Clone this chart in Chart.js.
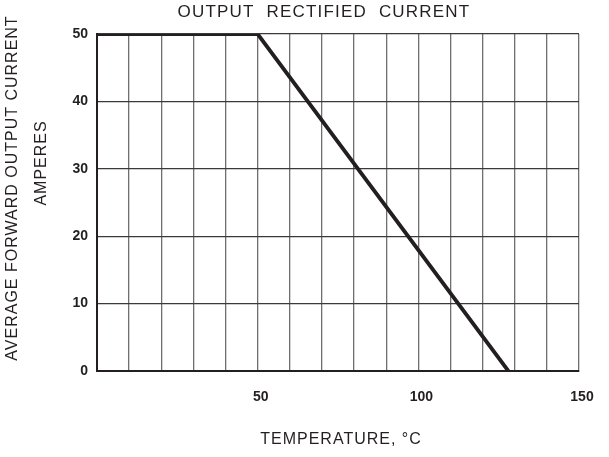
<!DOCTYPE html>
<html>
<head>
<meta charset="utf-8">
<script src="https://cdn.jsdelivr.net/npm/chart.js@4.4.1/dist/chart.umd.min.js"></script>
<style>
  html, body { margin: 0; padding: 0; background: #fff; }
  #wrap { width: 609px; height: 457px; }
</style>
</head>
<body>
<div id="wrap"><canvas id="derating"></canvas></div>
<script>
// derating curve
var tempC = [0, 50, 128];
var currentA = [50, 50, 0];
var xTickLabels = [50, 100, 150];
var yTickLabels = [0, 10, 20, 30, 40, 50];

var chartTitle = 'OUTPUT  RECTIFIED  CURRENT';
var yTitle = ['AVERAGE FORWARD OUTPUT CURRENT', 'AMPERES'];
var xTitle = 'TEMPERATURE, °C';

var ink = '#231f20';
var fontFam = '"Liberation Sans", Arial, sans-serif';

// titles drawn by hand so the letter spacing matches the datasheet
var titlesPlugin = {
  id: 'titles',
  afterDraw: function (chart) {
    var c = chart.ctx;
    c.save();
    c.fillStyle = ink;
    c.textBaseline = 'middle';
    c.textAlign = 'center';
    c.font = '17px ' + fontFam;
    c.letterSpacing = '1.2px';
    c.fillText(chartTitle, 324, 12);
    c.font = '16px ' + fontFam;
    c.letterSpacing = '1px';
    c.fillText(xTitle, 341, 440);
    c.translate(13, 188);
    c.rotate(-Math.PI / 2);
    c.fillText(yTitle[0], 0, 0);
    c.restore();
    c.save();
    c.fillStyle = ink;
    c.textBaseline = 'middle';
    c.textAlign = 'center';
    c.font = '16px ' + fontFam;
    c.letterSpacing = '1px';
    c.translate(42, 163);
    c.rotate(-Math.PI / 2);
    c.fillText(yTitle[1], 0, 0);
    c.restore();
  }
};

var points = tempC.map(function (t, i) { return { x: t, y: currentA[i] }; });

var ctx = document.getElementById('derating').getContext('2d');
var chart = new Chart(ctx, {
  type: 'line',
  data: {
    datasets: [{
      data: points,
      borderColor: ink,
      borderWidth: 3.8,
      pointRadius: 0,
      tension: 0,
      fill: false
    }]
  },
  options: {
    responsive: true,
    maintainAspectRatio: false,
    animation: false,
    layout: { padding: { left: 0, right: 30, top: 34, bottom: 0 } },
    plugins: {
      legend: { display: false },
      title: { display: false },
      tooltip: { enabled: false }
    },
    scales: {
      x: {
        type: 'linear',
        min: 0,
        max: 150,
        afterFit: function (s) { s.height = 86; },
        ticks: {
          stepSize: 10,
          autoSkip: false,
          maxRotation: 0,
          padding: 18,
          labelOffset: 3,
          color: ink,
          font: { family: fontFam, size: 14, weight: 'bold' },
          callback: function (v) { return xTickLabels.indexOf(v) >= 0 ? String(v) : ''; }
        },
        grid: { color: '#6f6f6f', lineWidth: 1.3, drawTicks: false },
        border: { color: ink, width: 2 }
      },
      y: {
        min: 0,
        max: 50,
        afterFit: function (s) { s.width = 97; },
        ticks: {
          stepSize: 10,
          padding: 9,
          color: ink,
          font: { family: fontFam, size: 14, weight: 'bold' },
          callback: function (v) { return yTickLabels.indexOf(v) >= 0 ? String(v) : ''; }
        },
        grid: { color: '#3a3a3a', lineWidth: 1.2, drawTicks: false },
        border: { color: ink, width: 2 }
      }
    }
  },
  plugins: [titlesPlugin]
});
</script>
</body>
</html>
